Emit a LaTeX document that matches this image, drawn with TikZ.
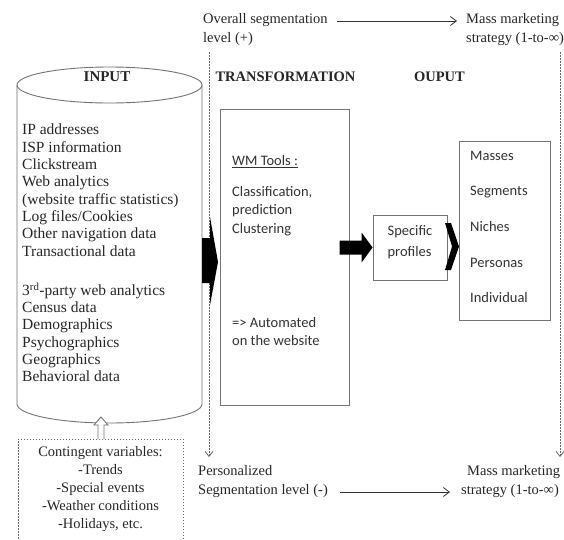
\documentclass[tikz,border=0pt]{standalone}
\usepackage{fontspec}
\setmainfont{Liberation Serif}
\newfontfamily\calfont{Carlito}
\usetikzlibrary{arrows.meta}
\begin{document}
\begin{tikzpicture}[x=1pt,y=-1pt,
  txt/.style={inner sep=0pt, text=black!85, font=\fontsize{14.5}{17.3}\selectfont},
  txttwo/.style={inner sep=0pt, text=black!85, font=\fontsize{14.5}{19}\selectfont},
  sans/.style={inner sep=0pt, text=black!80, font=\calfont\fontsize{14.5}{18.5}\selectfont},
  hdr/.style={inner sep=0pt, text=black!85, font=\fontsize{14.5}{17}\selectfont\bfseries},
  boxline/.style={draw=black!55, line width=0.9pt},
  dotbox/.style={draw=black!60, line width=0.9pt, dash pattern=on 1.5pt off 1.5pt},
  guide/.style={draw=black!60, line width=0.8pt, dash pattern=on 1.5pt off 1.5pt, -{Straight Barb[length=5pt,width=8pt]}},
  level/.style={draw=black!80, line width=0.8pt, -{Straight Barb[length=6pt,width=9pt]}},
  blk/.style={fill=black}]
\useasboundingbox (0,0) rectangle (564,539);
\fill[white] (0,0) rectangle (564,539);

% guide lines
\coordinate (gla) at (209,52);
\coordinate (glb) at (209,457);
\coordinate (gra) at (560,52);
\coordinate (grb) at (560,457);
\draw[guide] (gla) -- (glb);
\draw[guide] (gra) -- (grb);

% top level texts
\node[txttwo, anchor=west, align=left] (overall) at (203,30) {Overall segmentation\\level (+)};
\node[txttwo, anchor=west, align=left] (masstop) at (466,30) {Mass marketing\\strategy (1-to-∞)};
\coordinate (ta) at (337,21);
\coordinate (tb) at (457,21);
\draw[level] (ta) -- (tb);

% bottom level texts
\node[txttwo, anchor=west, align=left] (personal) at (198,482) {Personalized\\Segmentation level (-)};
\node[txttwo, anchor=west, align=left] (massbot) at (461,482) {\hspace*{6pt}Mass marketing\\strategy (1-to-∞)};
\coordinate (ba) at (340,492);
\coordinate (bb) at (450,492);
\draw[level] (ba) -- (bb);

% cylinder INPUT
\draw[boxline] (109.5,85) ellipse [x radius=92.5pt, y radius=18pt];
\draw[boxline] (17,85) -- (17,404) arc[start angle=180, end angle=360, x radius=92.5pt, y radius=19pt] -- (202,85);
\node[inner sep=0pt, minimum width=185pt, minimum height=357pt] (input) at (109.5,245) {};
\node[hdr, font=\fontsize{15}{17}\selectfont\bfseries] (inputhdr) at (107,77) {INPUT};
\node[txt, anchor=north west, align=left, font=\fontsize{15.5}{17.3}\selectfont] (inlist) at (22,124) {IP addresses\\ISP information\\Clickstream\\Web analytics\\(website traffic statistics)\\Log files/Cookies\\Other navigation data\\Transactional data\\[22pt]3\textsuperscript{rd}-party web analytics\\Census data\\Demographics\\Psychographics\\Geographics\\Behavioral data};

% contingent variables
\node[dotbox, minimum width=165pt, minimum height=112pt, anchor=north west] (cont) at (18,439) {};
\node[txt, align=center, font=\fontsize{14.5}{18}\selectfont] (conttxt) at (100.5,489) {Contingent variables:\\-Trends\\-Special events\\-Weather conditions\\-Holidays, etc.};
\draw[boxline, fill=white] (cont.north) ++(-3,0) -- ++(0,-14) -- ++(-4,0) -- ++(7,-8) -- ++(7,8) -- ++(-4,0) -- ++(0,14);

% headers
\node[hdr] (transhdr) at (285.5,77) {TRANSFORMATION};
\node[hdr] (outhdr) at (439.5,77) {OUPUT};

% transformation box
\node[boxline, draw, minimum width=129pt, minimum height=296pt] (trans) at (284.5,257.5) {};
\node[sans, anchor=west] (wm) at (232,162) {\underline{WM Tools :}};
\node[sans, anchor=north west, align=left] (methods) at (232,186) {Classification,\\prediction\\Clustering};
\node[sans, anchor=north west, align=left] (auto) at (232,317) {=> Automated\\on the website};

% input -> transformation block arrow
\fill[blk] (202,238) -- (210,238) -- (210,217) -- (218,262) -- (210,305) -- (210,283) -- (202,283) -- cycle;

% specific profiles
\node[boxline, draw, minimum width=74pt, minimum height=65pt] (spec) at (410,247.5) {};
\node[sans, align=left, font=\calfont\fontsize{14.5}{21}\selectfont] (spectxt) at (410,242) {Specific\\profiles};
\fill[blk] (spec.west) -- ++(-11,-15) -- ++(0,8) -- ++(-22,0) -- ++(0,14) -- ++(22,0) -- ++(0,8) -- cycle;

% chevron
\fill[blk] (445,223) -- (451,223) -- (459,246.5) -- (451,270) -- (445,270) -- (452,246.5) -- cycle;

% output box
\node[boxline, draw, minimum width=91pt, minimum height=179pt] (outbox) at (504.5,230.5) {};
\node[sans, anchor=west] (o1) at (470,156) {Masses};
\node[sans, anchor=west] (o2) at (470,192) {Segments};
\node[sans, anchor=west] (o3) at (470,227) {Niches};
\node[sans, anchor=west] (o4) at (470,263) {Personas};
\node[sans, anchor=west] (o5) at (470,298) {Individual};
\end{tikzpicture}
\end{document}
